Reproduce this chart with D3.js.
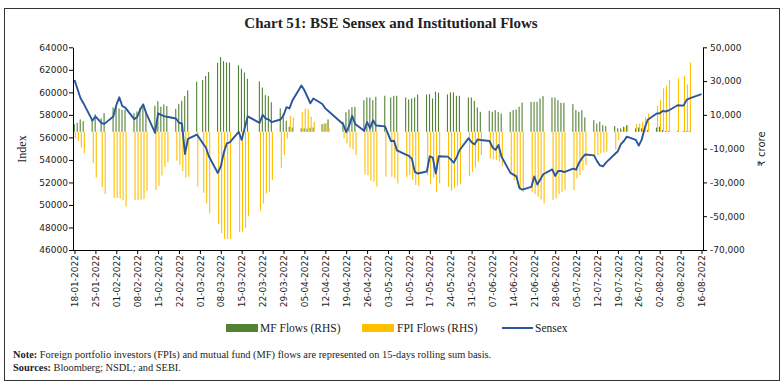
<!DOCTYPE html>
<html>
<head>
<meta charset="utf-8">
<script src="https://cdn.jsdelivr.net/npm/d3@7"></script>
<style>
  body { margin: 0; background: #fff; }
  svg { display: block; }
  .axis text { font-family: "DejaVu Sans", sans-serif; font-size: 9px; fill: #222; }
  .axis path, .axis line { stroke: #000; }
  .serif { font-family: "Liberation Serif", serif; fill: #222; }
</style>
</head>
<body>
<svg id="chart" width="784" height="385"></svg>
<script>
// trading days (dd-mm, 2022)
const dates = [
  "18-01","19-01","20-01","21-01","24-01","25-01","27-01","28-01","31-01",
  "01-02","02-02","03-02","04-02","07-02","08-02","09-02","10-02","11-02","14-02","15-02","16-02","17-02","18-02","21-02","22-02","23-02","24-02","25-02","28-02",
  "02-03","03-03","04-03","07-03","08-03","09-03","10-03","11-03","14-03","15-03","16-03","17-03","21-03","22-03","23-03","24-03","25-03","28-03","29-03","30-03","31-03",
  "01-04","04-04","05-04","06-04","07-04","08-04","11-04","12-04","13-04","18-04","19-04","20-04","21-04","22-04","25-04","26-04","27-04","28-04","29-04",
  "02-05","04-05","05-05","06-05","09-05","10-05","11-05","12-05","13-05","16-05","17-05","18-05","19-05","20-05","23-05","24-05","25-05","26-05","27-05","30-05","31-05",
  "01-06","02-06","03-06","06-06","07-06","08-06","09-06","10-06","13-06","14-06","15-06","16-06","17-06","20-06","21-06","22-06","23-06","24-06","27-06","28-06","29-06","30-06",
  "01-07","04-07","05-07","06-07","07-07","08-07","11-07","12-07","13-07","14-07","15-07","18-07","19-07","20-07","21-07","22-07","25-07","26-07","27-07","28-07","29-07",
  "01-08","02-08","03-08","04-08","05-08","08-08","10-08","11-08","12-08","16-08"
];

// MF flows, 15-day rolling sum (Rs crore)
const mfFlows = [
  4500,5300,7300,6300, 6900,10400,7900,11000, 14400,
  14400,13800,13000,13000, 11000,12000,13800,15000,11500, 15400,18100,14800,16200,15200, 13600,16400,18300,21100,24500, 29600,
  30600,33000,35300, 40800,44200,41800,41000,41000, 39400,37300,35100,31400, 29800,26200,21700,21100,17500, 13800,11000,6500,3000,
  2500, 2000,2000,1800,2400,2500, 4500,4900,7300, 5900,11600,13200,14600,14800, 18700,20300,20300,18700,20700,
  21300, 20300,21300,21300, 20300,19100,19700,20300,22100, 22100,22300,19700,23700,23100, 22100,23300,23300,21300,21300, 20300,20300,
  18300,14400,11800, 12400,11800,12800,11800,10800, 11800,12800,13200,14800,17300, 17700,17700,17700,19700,21100, 20300,20300,18700,17100,
  17100, 16400,12800,11800,12800,8500, 6900,4900,5900,3900,3400, 3400,2000,2000,3000,3900, 2000,2500,2000,1500,1000,
  2500,3000,1000,500,500, 500,500,500,500, 0
];

// FPI flows, 15-day rolling sum (Rs crore)
const fpiFlows = [
  -3900,-5300,-9300,-12800, -18700,-27200,-32700,-36900, -39200,
  -39200,-39600,-40400,-44300, -40400,-40400,-40200,-39800,-34900, -34500,-32100,-25800,-20900,-18100, -17100,-19700,-23300,-27200,-26600, -32500,
  -36100,-42400,-48300, -54600,-60100,-63500,-63500,-63500, -59200,-59200,-56800,-49900, -46700,-42400,-36500,-35500,-28600, -21300,-13800,-4000,9600,
  8500, 11800,13800,13400,8900,5900, 4500,5000,2000, -3900,-6900,-9300,-10400,-13800, -25200,-25600,-29000,-29600,-32500,
  -26600, -26600,-27600,-30600, -27000,-25600,-28600,-31500,-32100, -25600,-31000,-27000,-35500,-30600, -32500,-34900,-33500,-31900,-31000, -26200,-23700,
  -21300,-17700,-13800, -15800,-16400,-16800,-17700,-20300, -23700,-28600,-31000,-34100,-35500, -35500,-36900,-38400,-40000,-42400, -40400,-39400,-36900,-35500,
  -34500, -34500,-27600,-25600,-22700,-19700, -13800,-13800,-12800,-12400,-11800, -10400,-5000,1000,2600,3900, 4500,4900,5900,8500,10800,
  15400,18800,25700,27000,30600, 31600,33100,28000,41000, 0
];

// BSE Sensex close
const sensex = [
  61100,60300,59500,59040, 57490,57860,57280,57200, 57850,
  58860,59560,58790,58640, 57620,57810,58470,58930,58150, 56410,58140,58000,57890,57830, 57680,57300,57230,54530,55860, 56250,
  55470,55100,54330, 52840,53420,54650,55460,55550, 56490,55780,56820,57860, 57290,57990,57680,57600,57360, 57590,57940,58680,58570,
  59280, 60610,60180,59610,59030,59450, 58960,58580,58340, 57170,56460,57040,57910,57200, 56580,57360,56820,57520,57060,
  56980, 55670,55700,54840, 54470,54360,54090,52930,52790, 52970,54320,54210,52790,54330, 54290,54050,53750,54250,54880, 55930,55570,
  55380,55820,55770, 55680,55110,54890,55320,54300, 52850,52690,52540,51500,51360, 51600,52530,51820,52270,52730, 53160,52580,53030,53020,
  52910, 53230,53130,53750,54180,54480, 54400,53890,53510,53420,53760, 54520,54770,55400,55680,56070, 55770,55270,55820,56860,57570,
  58120,58140,58350,58300,58390, 58850,58820,59330,59460, 59840
];

const tickLabels = [
  "18-01-2022","25-01-2022","01-02-2022","08-02-2022","15-02-2022","22-02-2022","01-03-2022","08-03-2022",
  "15-03-2022","22-03-2022","29-03-2022","05-04-2022","12-04-2022","19-04-2022","26-04-2022","03-05-2022",
  "10-05-2022","17-05-2022","24-05-2022","31-05-2022","07-06-2022","14-06-2022","21-06-2022","28-06-2022",
  "05-07-2022","12-07-2022","19-07-2022","26-07-2022","02-08-2022","09-08-2022","16-08-2022"
];
const leftTicks = [46000,48000,50000,52000,54000,56000,58000,60000,62000,64000];
const rightTicks = [-70000,-50000,-30000,-10000,10000,30000,50000];

const parseDay = d3.timeParse("%d-%m-%Y");
// put each day at the middle of its slot
const mid = s => d3.timeHour.offset(parseDay(s), 12);
const data = dates.map((d, i) => ({
  date: mid(d + "-2022"),
  mf: mfFlows[i],
  fpi: fpiFlows[i],
  sensex: sensex[i]
}));

const svg = d3.select("#chart");
const plotLeft = 73, plotRight = 703, plotTop = 47.3, plotBottom = 250;

// outer frame
svg.append("rect")
  .attr("x", 4.5).attr("y", 8.5)
  .attr("width", 775).attr("height", 372)
  .attr("fill", "none").attr("stroke", "#333");

svg.append("text")
  .attr("class", "serif")
  .attr("x", 391).attr("y", 28)
  .attr("text-anchor", "middle")
  .style("font-size", "15px").style("font-weight", "bold")
  .text("Chart 51: BSE Sensex and Institutional Flows");

const x = d3.scaleTime()
  .domain([new Date(2022, 0, 18), new Date(2022, 7, 17)])
  .range([plotLeft, plotRight]);
const yL = d3.scaleLinear().domain([46000, 64000]).range([plotBottom, plotTop]);
const yR = d3.scaleLinear().domain([-70000, 50000]).range([plotBottom, plotTop]);

// bars
const bw = 1.1;
svg.append("g").selectAll("rect")
  .data(data).join("rect")
  .attr("x", d => x(d.date) - 0.8)
  .attr("y", d => yR(Math.max(0, d.mf)))
  .attr("width", bw)
  .attr("height", d => Math.abs(yR(d.mf) - yR(0)))
  .attr("fill", "#548235");

svg.append("g").selectAll("rect")
  .data(data).join("rect")
  .attr("x", d => x(d.date) + 0.3)
  .attr("y", d => yR(Math.max(0, d.fpi)))
  .attr("width", bw)
  .attr("height", d => Math.abs(yR(d.fpi) - yR(0)))
  .attr("fill", "#ffc000");

// sensex line
const line = d3.line()
  .x(d => x(d.date))
  .y(d => yL(d.sensex));
svg.append("path")
  .datum(data)
  .attr("d", line)
  .attr("fill", "none")
  .attr("stroke", "#2a579c")
  .attr("stroke-width", 1.9)
  .attr("stroke-linejoin", "round");

// axes
const fmtR = d => d3.format(",")(d).replace("\u2212", "-");
svg.append("g").attr("class", "axis")
  .attr("transform", `translate(${plotLeft},0)`)
  .call(d3.axisLeft(yL).tickValues(leftTicks).tickFormat(d3.format("d")).tickSize(4).tickPadding(1).tickSizeOuter(0));

svg.append("g").attr("class", "axis")
  .attr("transform", `translate(${plotRight},0)`)
  .call(d3.axisRight(yR).tickValues(rightTicks).tickFormat(fmtR).tickSize(4).tickPadding(3).tickSizeOuter(0));

const xAxis = svg.append("g").attr("class", "axis")
  .attr("transform", `translate(0,${plotBottom})`)
  .call(d3.axisBottom(x).tickValues(tickLabels.map(mid))
    .tickFormat((d, i) => tickLabels[i]).tickSize(4).tickSizeOuter(0));
xAxis.select(".domain").attr("d", `M${plotLeft},0.5H${plotRight}`);
xAxis.selectAll(".tick text")
  .attr("transform", "rotate(-90)")
  .attr("text-anchor", "end")
  .attr("x", -5).attr("y", 0).attr("dy", "0.35em");

// axis titles
svg.append("text")
  .attr("class", "serif")
  .attr("transform", "translate(26,149) rotate(-90)")
  .attr("text-anchor", "middle")
  .style("font-size", "12px")
  .text("Index");
svg.append("text")
  .attr("transform", "translate(765,149) rotate(-90)")
  .attr("text-anchor", "middle")
  .style("font-family", "'DejaVu Sans', 'Noto Sans', sans-serif")
  .style("font-size", "10px")
  .attr("fill", "#222")
  .text("₹ crore");

// legend
const legend = svg.append("g").attr("transform", "translate(0,328)");
legend.append("rect").attr("x", 226).attr("y", -4).attr("width", 32).attr("height", 8).attr("fill", "#548235");
legend.append("text").attr("class", "serif").attr("x", 260).attr("y", 4).style("font-size", "11.5px").text("MF Flows (RHS)");
legend.append("rect").attr("x", 362).attr("y", -4).attr("width", 32).attr("height", 8).attr("fill", "#ffc000");
legend.append("text").attr("class", "serif").attr("x", 397).attr("y", 4).style("font-size", "11.5px").text("FPI Flows (RHS)");
legend.append("line").attr("x1", 502).attr("x2", 533).attr("y1", 0).attr("y2", 0).attr("stroke", "#2a579c").attr("stroke-width", 2);
legend.append("text").attr("class", "serif").attr("x", 535).attr("y", 4).style("font-size", "11.5px").text("Sensex");

// notes
const note = svg.append("text").attr("class", "serif").attr("x", 13).attr("y", 358).style("font-size", "10.4px");
note.append("tspan").style("font-weight", "bold").text("Note: ");
note.append("tspan").text("Foreign portfolio investors (FPIs) and mutual fund (MF) flows are represented on 15-days rolling sum basis.");
const src = svg.append("text").attr("class", "serif").attr("x", 13).attr("y", 371).style("font-size", "10.4px");
src.append("tspan").style("font-weight", "bold").text("Sources: ");
src.append("tspan").text("Bloomberg; NSDL; and SEBI.");
</script>
</body>
</html>
